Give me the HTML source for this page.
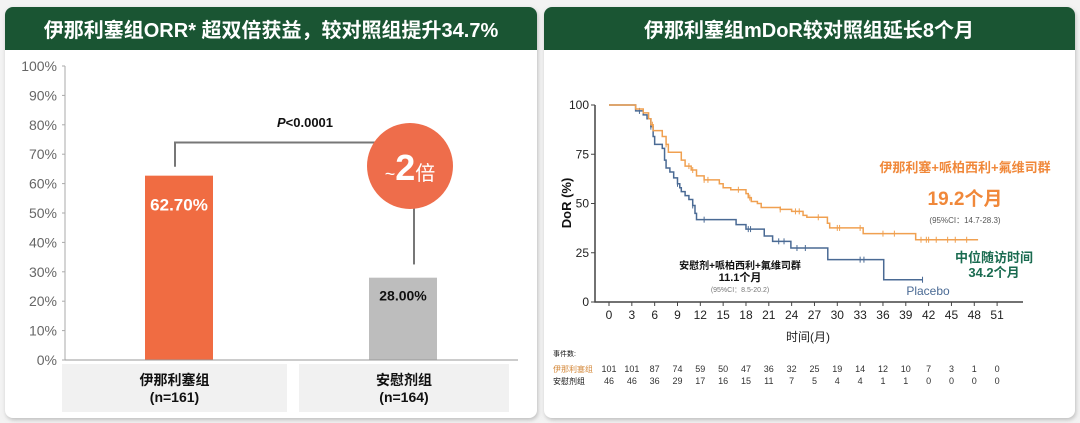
<!DOCTYPE html>
<html><head><meta charset="utf-8">
<style>
html,body{margin:0;padding:0;background:#f3f3f3;width:1080px;height:423px;overflow:hidden}
svg{display:block;font-family:"Liberation Sans","Noto Sans CJK SC",sans-serif}
</style></head>
<body>
<svg id="s" width="1080" height="423" viewBox="0 0 1080 423" xmlns="http://www.w3.org/2000/svg">
<defs><filter id="sh" x="-5%" y="-5%" width="110%" height="110%"><feDropShadow dx="1" dy="2" stdDeviation="2" flood-color="#888" flood-opacity="0.5"/></filter></defs>
<g>
<rect x="5" y="7" width="532" height="411" rx="8" fill="#fff" filter="url(#sh)"/>
<path d="M5 50 V15 a8 8 0 0 1 8 -8 H529 a8 8 0 0 1 8 8 V50 Z" fill="#1a5533"/>
<text x="271" y="37" text-anchor="middle" fill="#fff" font-size="20" font-weight="bold">伊那利塞组ORR* 超双倍获益，较对照组提升34.7%</text>
<g id="bar"></g>
</g>
<g>
<rect x="544" y="7" width="531" height="411" rx="8" fill="#fff" filter="url(#sh)"/>
<path d="M544 50 V15 a8 8 0 0 1 8 -8 H1067 a8 8 0 0 1 8 8 V50 Z" fill="#1a5533"/>
<text x="809" y="37" text-anchor="middle" fill="#fff" font-size="20" font-weight="bold">伊那利塞组mDoR较对照组延长8个月</text>
<g id="km"></g>
</g>
</svg>
<script>
const NS="http://www.w3.org/2000/svg";
function mk(p,tag,a,txt){const e=document.createElementNS(NS,tag);for(const k in a)e.setAttribute(k,a[k]);if(txt!=null)e.textContent=txt;p.appendChild(e);return e;}

/* ---------- bar chart data ---------- */
const barCats=["伊那利塞组","安慰剂组"];
const barN=["(n=161)","(n=164)"];
const barVals=[62.7,28.0];
const barLabels=["62.70%","28.00%"];
const yTicks=[0,10,20,30,40,50,60,70,80,90,100];

/* ---------- KM data ---------- */
const kmXTicks=[0,3,6,9,12,15,18,21,24,27,30,33,36,39,42,45,48,51];
const kmYTicks=[0,25,50,75,100];
const armT=[0,3.2,3.5,4.5,5.2,5.5,5.8,7,7.5,7.8,9.5,10,10.8,11.5,12.5,14.5,15,16,18,18.3,18.7,19.5,20,22.5,24,25.5,26,28.7,29,33.4,40.3,48.5];
const armS=[100,100,98,96,93,90,87,84,80,76,72,69,67,64,62,60,58,57,55,53,51,50,48,47,46,44,43,40,37.6,34.7,31.6,31.6];
const armCens=[5.7,7.5,10.5,11,12.5,13,17,18.5,22.5,24.5,25,27.5,30,30.3,33,36,37.5,41,41.7,42,43,44.5,45.5,47];
const pboT=[0,3.2,3.5,4.5,5,5.5,5.8,6,7,7.3,7.5,8,8.5,9,9.3,9.5,10,10.5,11,11.3,11.5,16.7,18,20.4,21.5,23.9,28.75,36.1,41.2];
const pboS=[100,100,97,95,93,89,84,80,78,72,68,66,63,60,58,56,54,52,49,45,41.8,39.3,37,33.5,30.8,27.4,21.5,11.3,11.3];
const pboCens=[4,5.5,9,11,12.5,18.3,18.6,22.3,23,24.7,25.8,33,33.5,41.2];
const riskArm=[101,101,87,74,59,50,47,36,32,25,19,14,12,10,7,3,1,0];
const riskPbo=[46,46,36,29,17,16,15,11,7,5,4,4,1,1,0,0,0,0];

/* ---------- bar chart ---------- */
(function(){
const g=document.getElementById('bar');
const y=v=>360-v*2.94, x0=65, x1=518;
const bx=[145,369], bw=68;
let e=mk(g,'line',{x1:x0,y1:y(0),x2:x0,y2:y(100),stroke:'#aaa','stroke-width':1});

yTicks.forEach(t=>{
  mk(g,'line',{x1:x0-3,y1:y(t),x2:x0,y2:y(t),stroke:'#aaa'});
  const l=mk(g,'text',{x:x0-8,y:y(t)+5,'text-anchor':'end','font-size':14,fill:'#666'},t+'%');
  
});
const cols=['#f06c42','#bdbdbd'], lc=['#fff','#111'];
barVals.forEach((v,i)=>{
  const r=mk(g,'rect',{x:bx[i],y:y(v),width:bw,height:y(0)-y(v),fill:cols[i]});
  
  const t=mk(g,'text',{x:bx[i]+bw/2,y:y(v)+(i?23:35),'text-anchor':'middle','font-size':i?14:17,'font-weight':'bold',fill:lc[i]},barLabels[i]);
  
});
mk(g,'line',{x1:x0,y1:y(0),x2:x1,y2:y(0),stroke:'#999'});
const cx=[62,299], cw=[225,210];
barCats.forEach((c,i)=>{
  const b=mk(g,'rect',{x:cx[i],y:364,width:cw[i],height:48,fill:'#f1f1f1'});
  
  const t=mk(g,'text',{x:cx[i]+cw[i]/2,y:385,'text-anchor':'middle','font-size':14,'font-weight':'bold',fill:'#111'},c);
  
  mk(g,'text',{x:cx[i]+cw[i]/2,y:402,'text-anchor':'middle','font-size':14,'font-weight':'bold',fill:'#111'},barN[i]);
});
const by=y(74);
const br=mk(g,'path',{d:`M${bx[0]+30} ${y(63)-8} V${by} H400`,fill:'none',stroke:'#777','stroke-width':2});

mk(g,'line',{x1:414,y1:200,x2:414,y2:y(32.5),stroke:'#777','stroke-width':2});
const pt=mk(g,'text',{x:305,y:127,'text-anchor':'middle','font-size':13,'font-weight':'bold',fill:'#111'});

mk(pt,'tspan',{'font-style':'italic'},'P');mk(pt,'tspan',{},'<0.0001');
const c=mk(g,'circle',{cx:410,cy:166,r:43,fill:'#ee6d4b'});

const ct=mk(g,'text',{x:410,y:180,'text-anchor':'middle',fill:'#fff'});
mk(ct,'tspan',{'font-size':18},'~');mk(ct,'tspan',{'font-size':36,'font-weight':'bold'},'2');mk(ct,'tspan',{'font-size':20},'倍');
})();

/* ---------- KM chart ---------- */
(function(){
const g=document.getElementById('km');
const X=m=>609+m*7.61, Y=s=>302-s*1.97;
const ax=mk(g,'path',{d:`M595 ${Y(100)} V302 H1023`,fill:'none',stroke:'#444','stroke-width':1.5});

kmYTicks.forEach(t=>{
  mk(g,'line',{x1:591,y1:Y(t),x2:595,y2:Y(t),stroke:'#444'});
  const l=mk(g,'text',{x:589,y:Y(t)+4,'text-anchor':'end','font-size':12,fill:'#222'},t);
  
});
kmXTicks.forEach(t=>{
  mk(g,'line',{x1:X(t),y1:302,x2:X(t),y2:306,stroke:'#444'});
  const l=mk(g,'text',{x:X(t),y:319,'text-anchor':'middle','font-size':12,fill:'#222'},t);
  
});
const yl=mk(g,'text',{x:0,y:0,transform:'translate(571,203) rotate(-90)','text-anchor':'middle','font-size':13,'font-weight':'bold',fill:'#111'},'DoR (%)');

const xl=mk(g,'text',{x:808,y:341,'text-anchor':'middle','font-size':12,fill:'#222'},'时间(月)');

function surv(T,S,t){let s=S[0];for(let i=0;i<T.length;i++){if(T[i]<=t)s=S[i];}return s;}
function curve(T,S,C,col,name){
  let d=`M${X(T[0])} ${Y(S[0])}`;
  for(let i=1;i<T.length;i++){d+=` H${X(T[i])} V${Y(S[i])}`;}
  const p=mk(g,'path',{d:d,fill:'none',stroke:col,'stroke-width':1.5});
  
  C.forEach(t=>{const yy=Y(surv(T,S,t));
    const m=mk(g,'line',{x1:X(t),y1:yy-3,x2:X(t),y2:yy+3,stroke:col,'stroke-width':1});
    });
}
curve(pboT,pboS,pboCens,'#4a6a94','placebo-curve');
curve(armT,armS,armCens,'#f0a050','inavolisib-curve');
function txt(x,y,s,fs,col,b,name){const t=mk(g,'text',{x:x,y:y,'text-anchor':'middle','font-size':fs,fill:col,'font-weight':b?'bold':'normal'},s);
  return t;}
txt(965,172,'伊那利塞+哌柏西利+氟维司群',13,'#f0883a',1,'arm-label');
txt(965,205,'19.2个月',19,'#f0883a',1,'arm-median');
txt(965,223,'(95%CI：14.7-28.3)',8,'#555',0,'arm-ci');
txt(994,262,'中位随访时间',13,'#1a6b50',1,'followup-label');
txt(994,277,'34.2个月',13,'#1a6b50',1,'followup-value');
txt(740,269,'安慰剂+哌柏西利+氟维司群',10,'#111',1,'placebo-label');
txt(740,281,'11.1个月',11,'#111',1,'placebo-median');
txt(740,292,'(95%CI：8.5-20.2)',7,'#777',0,'placebo-ci');
txt(928,295,'Placebo',12,'#4a6a94',0,'placebo-curve-label');
const r0=mk(g,'text',{x:553,y:356,'font-size':7,fill:'#111'},'事件数:');

const r1=mk(g,'text',{x:553,y:372,'font-size':8,fill:'#d4883a'},'伊那利塞组');

const r2=mk(g,'text',{x:553,y:384,'font-size':8,fill:'#111'},'安慰剂组');

kmXTicks.forEach((t,i)=>{
  const a=mk(g,'text',{x:X(t),y:372,'text-anchor':'middle','font-size':9,fill:'#333'},riskArm[i]);
  
  const b=mk(g,'text',{x:X(t),y:384,'text-anchor':'middle','font-size':9,fill:'#333'},riskPbo[i]);
  
});
})();
</script>
</body></html>
